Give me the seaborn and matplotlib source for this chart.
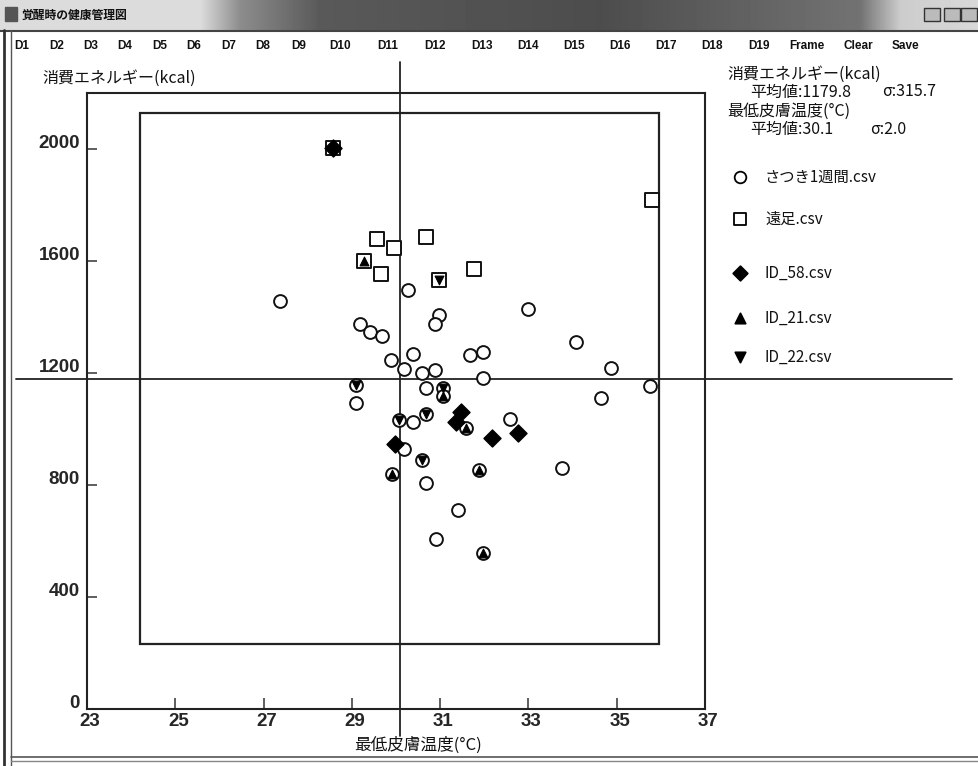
import numpy as np
import pandas as pd
import matplotlib
matplotlib.use("Agg")
import matplotlib.pyplot as plt
import matplotlib.transforms as mtrans
from matplotlib.patches import Rectangle
import seaborn as sns

# ---------------- data ----------------
satsuki_temp = [27.38, 29.19, 29.41, 29.69, 29.88, 30.38, 30.18, 30.58, 30.88, 31.68,
                31.98, 31.97, 29.09, 29.09, 30.69, 31.07, 31.07, 30.69, 30.07, 30.38,
                31.59, 32.58, 30.18, 30.58, 29.90, 31.89, 30.69, 31.40, 30.91, 31.98,
                30.28, 30.98, 30.88, 32.98, 34.07, 34.86, 35.76, 34.65, 33.76]
satsuki_kcal = [1457, 1374, 1346, 1332, 1245, 1267, 1215, 1201, 1211, 1263,
                1276, 1181, 1156, 1094, 1148, 1145, 1118, 1052, 1031, 1025,
                1003, 1035, 930, 888, 838, 853, 806, 710, 606, 556,
                1496, 1406, 1374, 1430, 1311, 1219, 1154, 1112, 862]

ensoku_temp = [28.58, 29.56, 29.96, 29.27, 29.67, 30.68, 30.97, 31.77, 35.81]
ensoku_kcal = [2005, 1680, 1648, 1600, 1552, 1686, 1532, 1573, 1818]

id58_temp = [28.58, 31.47, 31.36, 32.17, 32.76, 29.98]
id58_kcal = [2005, 1061, 1025, 969, 987, 945]

id21_temp = [29.27, 31.07, 31.59, 29.90, 31.89, 31.98]
id21_kcal = [1600, 1118, 1003, 838, 853, 556]

id22_temp = [30.97, 29.09, 31.07, 30.69, 30.07, 30.58]
id22_kcal = [1532, 1156, 1145, 1052, 1031, 888]

energy_mean, energy_sd = 1179.8, 315.7
temp_mean, temp_sd = 30.08, 1.96
energy_mean_txt, energy_sd_txt = "1179.8", "315.7"
temp_mean_txt, temp_sd_txt = "30.1", "2.0"

x_ticks = [23, 25, 27, 29, 31, 33, 35, 37]
y_ticks = [0, 400, 800, 1200, 1600, 2000]

series_names = ["さつき1週間.csv", "遠足.csv", "ID_58.csv", "ID_21.csv", "ID_22.csv"]
menu_items = ["D1", "D2", "D3", "D4", "D5", "D6", "D7", "D8", "D9", "D10", "D11", "D12",
              "D13", "D14", "D15", "D16", "D17", "D18", "D19", "Frame", "Clear", "Save"]
menu_x = [22, 57, 91, 125, 160, 194, 229, 263, 299, 340, 388, 435, 482, 528, 574, 620,
          666, 712, 759, 807, 858, 905]
window_title = "覚醒時の健康管理図"
y_title = "消費エネルギー(kcal)"
x_title = "最低皮膚温度(°C)"

# ---------------- figure ----------------
sns.set_theme(style="white")
plt.rcParams["font.family"] = ["Noto Sans CJK JP", "DejaVu Sans"]

W, H = 979, 766
fig = plt.figure(figsize=(W / 100, H / 100), dpi=100)
fig.patch.set_facecolor("white")

bg = fig.add_axes([0, 0, 1, 1])
bg.set_xlim(0, W)
bg.set_ylim(H, 0)
bg.axis("off")
bg.set_zorder(1)

# window chrome: title bar
prof_x = [0, 200, 240, 320, 600, 860, 900, 979]
prof_v = [0.86, 0.86, 0.55, 0.35, 0.30, 0.45, 0.80, 0.85]
grad = np.interp(np.arange(W), prof_x, prof_v)[None, :]
bg.imshow(grad, extent=[0, W, 30, 0], cmap="gray", vmin=0, vmax=1, aspect="auto", zorder=1)
bg.text(22, 15, window_title, fontsize=8.5, fontweight="bold", va="center", ha="left", color="#111", zorder=3)
bg.add_patch(Rectangle((5, 7), 12, 14, color="#555", zorder=3))
for bx in [924, 944, 961]:
    bg.add_patch(Rectangle((bx, 8), 16, 13, facecolor="#bbb", edgecolor="#333", lw=1, zorder=3))
bg.plot([0, W], [31, 31], color="#444", lw=1.5, zorder=2)
bg.plot([4, 4], [30, H], color="#333", lw=2, zorder=2)
bg.plot([11, 11], [30, H], color="#555", lw=1, zorder=2)
bg.plot([11, W], [757, 757], color="#555", lw=1.2, zorder=2)
bg.plot([11, W], [761, 761], color="#888", lw=1, zorder=2)

for name, mx in zip(menu_items, menu_x):
    bg.text(mx, 46, name, fontsize=8.5, fontweight="bold", family="Liberation Sans",
            ha="center", va="center", color="#111", zorder=3)

# axis titles
bg.text(42, 78, y_title, fontsize=11.5, ha="left", va="center", color="#111", zorder=3)
bg.text(418, 745, x_title, fontsize=12, ha="center", va="center", color="#111", zorder=3)

# statistics text
bg.text(727, 74, y_title, fontsize=11.5, ha="left", va="center", color="#111", zorder=3)
bg.text(750, 92, "平均値:" + energy_mean_txt, fontsize=11.5, ha="left", va="center", color="#111", zorder=3)
bg.text(882, 92, "σ:" + energy_sd_txt, fontsize=11.5, ha="left", va="center", color="#111", zorder=3)
bg.text(727, 111, x_title, fontsize=11.5, ha="left", va="center", color="#111", zorder=3)
bg.text(750, 129, "平均値:" + temp_mean_txt, fontsize=11.5, ha="left", va="center", color="#111", zorder=3)
bg.text(870, 129, "σ:" + temp_sd_txt, fontsize=11.5, ha="left", va="center", color="#111", zorder=3)

# legend
leg_y = [177, 219, 273, 318, 357]
leg_m = ["o", "s", "D", "^", "v"]
leg_fill = ["white", "white", "black", "black", "black"]
leg_s = [70, 75, 55, 55, 55]
for name, ly, m, fc, sz in zip(series_names, leg_y, leg_m, leg_fill, leg_s):
    bg.scatter([740], [ly], marker=m, s=sz, facecolor=fc, edgecolor="black", linewidth=1.3, zorder=3)
    bg.text(765, ly, name, fontsize=11, ha="left", va="center", color="#111", zorder=3)

# ---------------- main axes ----------------
ax = fig.add_axes([87 / W, 1 - 709 / H, (705 - 87) / W, (709 - 93) / H])
ax.set_zorder(2)
ax.set_facecolor("white")

sns.scatterplot(x=satsuki_temp, y=satsuki_kcal, marker="o", s=85, color="white",
                edgecolor="#111", linewidth=1.4, ax=ax, zorder=3, legend=False)
sns.scatterplot(x=ensoku_temp, y=ensoku_kcal, marker="s", s=95, color="white",
                edgecolor="#111", linewidth=1.4, ax=ax, zorder=4, legend=False)
sns.scatterplot(x=id58_temp, y=id58_kcal, marker="D", s=75, color="black",
                edgecolor="black", linewidth=1, ax=ax, zorder=5, legend=False)
sns.scatterplot(x=id21_temp, y=id21_kcal, marker="^", s=40, color="black",
                edgecolor="black", linewidth=0.8, ax=ax, zorder=6, legend=False)
sns.scatterplot(x=id22_temp, y=id22_kcal, marker="v", s=40, color="black",
                edgecolor="black", linewidth=0.8, ax=ax, zorder=6, legend=False)

# mean +- 3 sigma frame
ax.add_patch(Rectangle((temp_mean - 3 * temp_sd, energy_mean - 3 * energy_sd),
                       6 * temp_sd, 6 * energy_sd, fill=False, lw=1.6,
                       edgecolor="#222", zorder=2))
# mean lines (extend beyond the plot frame)
ax.plot([21.4, 42.6], [energy_mean, energy_mean], color="#222", lw=1.3, clip_on=False, zorder=2)
ax.plot([temp_mean, temp_mean], [-95, 2310], color="#222", lw=1.3, clip_on=False, zorder=2)

ax.set_xlim(23, 37)
ax.set_ylim(0, 2200)
ax.set_xticks(x_ticks)
ax.set_yticks(y_ticks)
ax.set_xticklabels([str(v) for v in x_ticks], family="Liberation Sans", fontweight="bold", fontsize=13.5)
ax.set_yticklabels([str(v) for v in y_ticks], family="Liberation Sans", fontweight="bold", fontsize=13.5)
ax.tick_params(axis="x", direction="in", length=8, width=1.1, color="#333", pad=3, bottom=True)
ax.tick_params(axis="y", direction="in", length=7, width=1.1, color="#333", pad=5, left=True)
for lbl in ax.get_xticklabels():
    lbl.set_transform(lbl.get_transform() + mtrans.ScaledTranslation(3 / 100, 0, fig.dpi_scale_trans))
for lbl in ax.get_yticklabels():
    lbl.set_transform(lbl.get_transform() + mtrans.ScaledTranslation(0, 7 / 100, fig.dpi_scale_trans))
ax.set_xlabel("")
ax.set_ylabel("")
for sp in ax.spines.values():
    sp.set_color("#222")
    sp.set_linewidth(1.5)
    sp.set_visible(True)

fig.savefig("out.png", dpi=100)
